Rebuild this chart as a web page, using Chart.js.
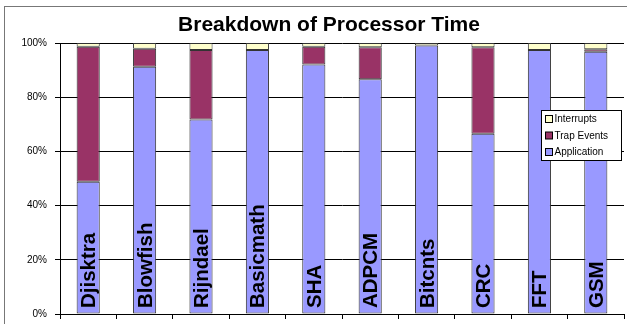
<!DOCTYPE html>
<html>
<head>
<meta charset="utf-8">
<script src="https://cdn.jsdelivr.net/npm/chart.js@4/dist/chart.umd.min.js"></script>
<style>
  html, body { margin: 0; padding: 0; background: #fff; }
  #wrap { width: 627px; height: 324px; }
</style>
</head>
<body>
<div id="wrap"><canvas id="c" width="627" height="324"></canvas></div>
<script>
// Benchmarks and share of processor time (percent)
const benchmarks = ['Djisktra', 'Blowfish', 'Rijndael', 'Basicmath', 'SHA', 'ADPCM', 'Bitcnts', 'CRC', 'FFT', 'GSM'];
const application = [48.8, 91.2, 71.8, 97.4, 92.1, 86.6, 99.1, 66.5, 97.4, 96.8];
const trapEvents  = [49.8, 6.7, 25.6, 0.0, 6.5, 11.8, 0.0, 31.9, 0.0, 0.9];
const interrupts  = [1.4, 2.1, 2.6, 2.6, 1.4, 1.6, 0.9, 1.6, 2.6, 2.3];
const yTicks = [0, 20, 40, 60, 80, 100];

const FONT = "'Liberation Sans', Arial, Helvetica, sans-serif";

// Frame, white background and title
const framePlugin = {
  id: 'frame',
  beforeDraw(chart) {
    const ctx = chart.ctx;
    ctx.save();
    ctx.fillStyle = '#fff';
    ctx.fillRect(0, 0, chart.width, chart.height);
    ctx.strokeStyle = '#777';
    ctx.lineWidth = 1;
    ctx.strokeRect(4.5, 6.5, chart.width + 20, chart.height + 20);
    ctx.fillStyle = '#000';
    ctx.font = 'bold 21px ' + FONT;
    ctx.textAlign = 'center';
    ctx.textBaseline = 'middle';
    ctx.fillText('Breakdown of Processor Time', 329, 25);
    ctx.restore();
  }
};

// Benchmark names written vertically inside each bar
const barNamePlugin = {
  id: 'barNames',
  afterDatasetsDraw(chart) {
    const ctx = chart.ctx;
    const meta = chart.getDatasetMeta(0);
    const bottom = chart.chartArea.bottom;
    ctx.save();
    ctx.fillStyle = '#000';
    ctx.font = 'bold 20.5px ' + FONT;
    ctx.textAlign = 'left';
    ctx.textBaseline = 'alphabetic';
    chart.data.labels.forEach((name, i) => {
      const el = meta.data[i];
      ctx.save();
      ctx.translate(el.x + 7, bottom - 6);
      ctx.rotate(-Math.PI / 2);
      ctx.fillText(name, 0, 0);
      ctx.restore();
    });
    ctx.restore();
  }
};

// Boxed legend inside the plot, series listed top-down in stack order
const boxLegendPlugin = {
  id: 'boxLegend',
  afterDraw(chart) {
    const ctx = chart.ctx;
    const x0 = 541.5, y0 = 110.5, w = 80, h = 50;
    ctx.save();
    ctx.fillStyle = '#fff';
    ctx.fillRect(x0, y0, w, h);
    ctx.strokeStyle = '#000';
    ctx.lineWidth = 1;
    ctx.strokeRect(x0, y0, w, h);
    ctx.font = '10px ' + FONT;
    ctx.textBaseline = 'middle';
    const ds = chart.data.datasets.slice().reverse();
    ds.forEach((d, i) => {
      const cy = y0 + 8.5 + i * 16.5;
      ctx.fillStyle = d.backgroundColor;
      ctx.fillRect(x0 + 4, cy - 3.5, 7, 7);
      ctx.strokeStyle = '#000';
      ctx.strokeRect(x0 + 4, cy - 3.5, 7, 7);
      ctx.fillStyle = '#000';
      ctx.fillText(d.label, x0 + 13, cy + 0.5);
    });
    ctx.restore();
  }
};

const barStyle = {
  borderColor: '#333',
  borderWidth: 1,
  borderSkipped: false,
  barPercentage: 0.41,
  categoryPercentage: 1.0
};

new Chart(document.getElementById('c'), {
  type: 'bar',
  data: {
    labels: benchmarks,
    datasets: [
      Object.assign({ label: 'Application', data: application, backgroundColor: '#9999FF' }, barStyle),
      Object.assign({ label: 'Trap Events', data: trapEvents, backgroundColor: '#993366' }, barStyle),
      Object.assign({ label: 'Interrupts', data: interrupts, backgroundColor: '#FFFFCC' }, barStyle)
    ]
  },
  options: {
    responsive: false,
    animation: false,
    devicePixelRatio: 1,
    layout: { padding: { top: 43, right: 3, left: 0, bottom: 0 } },
    plugins: {
      legend: { display: false },
      title: { display: false },
      tooltip: { enabled: false }
    },
    scales: {
      x: {
        stacked: true,
        grid: { offset: true, drawOnChartArea: false, color: '#000', tickLength: 5 },
        border: { display: true, color: '#000' },
        ticks: { display: false },
        afterFit(scale) { scale.height = 10; }
      },
      y: {
        stacked: true,
        min: 0,
        max: 100,
        afterBuildTicks(scale) { scale.ticks = yTicks.map(v => ({ value: v })); },
        ticks: {
          callback: v => v + '%',
          color: '#000',
          font: { family: FONT, size: 10 },
          padding: 8
        },
        grid: { color: '#000', tickLength: 5 },
        border: { display: true, color: '#000' },
        afterFit(scale) {
          scale.width = 60;
          scale.paddingTop = 0;
          scale.paddingBottom = 0;
        }
      }
    }
  },
  plugins: [framePlugin, barNamePlugin, boxLegendPlugin]
});
</script>
</body>
</html>
